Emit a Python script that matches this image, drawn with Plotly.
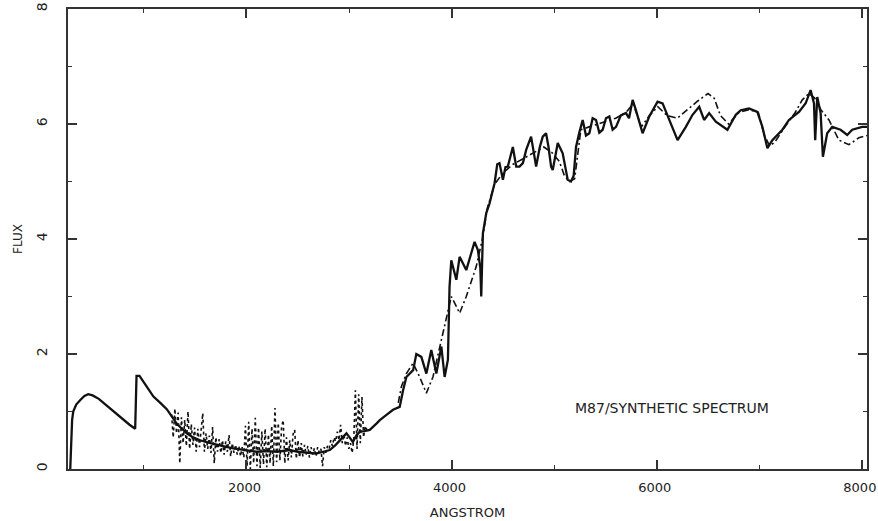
import numpy as np
import plotly.graph_objects as go

# Solid spectrum: model UV continuum joined to the observed optical spectrum
solid_wave = [282, 290, 300, 311, 340, 380, 420, 457, 500, 560, 620, 700, 780, 860, 915, 928,
              957, 1000, 1093, 1160, 1223, 1270, 1320, 1370, 1418, 1480, 1547, 1630, 1710, 1790,
              1872, 1950, 2018, 2100, 2200, 2300, 2423, 2500, 2600, 2680, 2748, 2813, 2870, 2910,
              2975, 3005, 3037, 3070, 3105, 3150, 3202, 3267, 3300, 3365, 3429, 3494, 3510, 3527,
              3559, 3625, 3656, 3705, 3754, 3780, 3802, 3851, 3900, 3932, 3964, 3980, 3997, 4046,
              4078, 4143, 4224, 4256, 4280, 4289, 4305, 4338, 4370, 4395, 4419, 4445, 4467, 4500,
              4525, 4548, 4597, 4630, 4662, 4695, 4727, 4775, 4800, 4824, 4860, 4889, 4921, 4945,
              4970, 4986, 5035, 5051, 5083, 5132, 5164, 5190, 5213, 5245, 5278, 5310, 5343, 5375,
              5408, 5440, 5473, 5505, 5538, 5570, 5603, 5650, 5700, 5730, 5765, 5797, 5862, 5927,
              6008, 6057, 6122, 6203, 6284, 6349, 6414, 6462, 6511, 6576, 6689, 6771, 6819, 6900,
              6981, 7030, 7079, 7127, 7225, 7289, 7387, 7452, 7500, 7533, 7545, 7565, 7598, 7620,
              7662, 7711, 7792, 7857, 7906, 8003, 8050]
solid_flux = [0.00, 0.55, 0.85, 1.00, 1.12, 1.20, 1.27, 1.30, 1.28, 1.22, 1.13, 1.00, 0.88, 0.77, 0.70, 1.62,
              1.62, 1.50, 1.26, 1.15, 1.04, 0.92, 0.79, 0.70, 0.62, 0.55, 0.50, 0.46, 0.42, 0.39,
              0.36, 0.34, 0.31, 0.30, 0.31, 0.30, 0.33, 0.30, 0.28, 0.27, 0.30, 0.33, 0.42, 0.50,
              0.62, 0.55, 0.47, 0.58, 0.65, 0.66, 0.68, 0.79, 0.85, 0.94, 1.03, 1.08, 1.25, 1.37,
              1.60, 1.72, 2.00, 1.95, 1.66, 1.90, 2.07, 1.66, 2.13, 1.60, 1.90, 3.17, 3.63, 3.29,
              3.69, 3.46, 3.95, 3.81, 3.50, 3.00, 4.10, 4.45, 4.62, 4.80, 4.97, 5.30, 5.32, 5.03,
              5.25, 5.26, 5.60, 5.26, 5.26, 5.32, 5.55, 5.78, 5.50, 5.26, 5.60, 5.78, 5.84, 5.60,
              5.26, 5.20, 5.67, 5.60, 5.49, 5.03, 5.00, 5.10, 5.60, 5.85, 6.07, 5.80, 5.84, 6.10,
              6.07, 5.85, 5.90, 6.10, 6.13, 5.90, 5.95, 6.15, 6.19, 6.10, 6.42, 6.24, 5.84, 6.13,
              6.39, 6.36, 6.07, 5.72, 5.95, 6.16, 6.30, 6.07, 6.19, 6.04, 5.90, 6.16, 6.24, 6.27,
              6.21, 5.95, 5.58, 5.72, 5.90, 6.07, 6.21, 6.36, 6.59, 6.36, 5.72, 6.47, 6.19, 5.43,
              5.84, 5.95, 5.90, 5.81, 5.90, 5.95, 5.95]

# Dash-dot synthetic spectrum in the optical
synth_wave = [3480, 3510, 3559, 3624, 3689, 3754, 3818, 3883, 3948, 3997, 4040, 4078, 4143, 4240,
              4300, 4350, 4420, 4500, 4600, 4700, 4800, 4900, 4980, 5050, 5100, 5150, 5200, 5260,
              5340, 5420, 5500, 5600, 5700, 5770, 5850, 5930, 6010, 6100, 6200, 6300, 6400, 6500,
              6560, 6620, 6700, 6800, 6900, 6990, 7050, 7100, 7150, 7250, 7350, 7419, 7484, 7540,
              7600, 7679, 7776, 7873, 7970, 8050]
synth_flux = [1.15, 1.43, 1.66, 1.84, 1.60, 1.32, 1.60, 2.13, 2.65, 3.00, 2.85, 2.71, 3.00, 3.52,
              4.00, 4.55, 4.95, 5.15, 5.30, 5.40, 5.50, 5.60, 5.50, 5.35, 5.10, 5.00, 5.05, 5.90,
              5.95, 6.00, 6.05, 6.10, 6.20, 6.35, 5.95, 6.15, 6.30, 6.15, 6.10, 6.25, 6.40, 6.53,
              6.45, 6.15, 6.00, 6.20, 6.25, 6.20, 5.80, 5.62, 5.68, 5.95, 6.20, 6.42, 6.53, 6.45,
              6.25, 6.07, 5.72, 5.64, 5.76, 5.80]

# Dotted ultraviolet observations, sampled every 16 A from 1270 A
uv_start = 1270
uv_step = 16
uv_flux = [0.95, 0.55, 1.05, 0.62, 0.98, 0.10, 0.90, 0.45, 0.85, 0.40,
           1.00, 0.35, 0.78, 0.42, 0.72, 0.30, 0.70, 0.38, 0.68, 0.97,
           0.30, 0.62, 0.35, 0.58, 0.28, 0.73, 0.10, 0.55, 0.30, 0.52,
           0.28, 0.50, 0.25, 0.48, 0.30, 0.59, 0.22, 0.45, 0.28, 0.42,
           0.25, 0.40, 0.22, 0.38, 0.20, 0.75, 0.05, 0.82, 0.00, 0.70,
           0.10, 0.89, 0.05, 0.72, 0.02, 0.65, 0.08, 0.70, 0.03, 0.60,
           0.10, 0.75, 0.05, 1.06, 0.12, 0.80, 0.15, 0.72, 0.85, 0.10,
           0.55, 0.15, 0.50, 0.20, 0.60, 0.68, 0.18, 0.50, 0.20, 0.45,
           0.22, 0.42, 0.25, 0.40, 0.20, 0.38, 0.25, 0.36, 0.22, 0.38,
           0.28, 0.35, 0.05, 0.38, 0.28, 0.40, 0.35, 0.50, 0.40, 0.55,
           0.48, 0.65, 0.50, 0.77, 0.45, 0.60, 0.40, 0.55, 0.35, 0.45,
           0.28, 0.50, 1.37, 0.35, 1.30, 0.45, 1.25, 0.55, 0.75, 0.68]
uv_wave = uv_start + uv_step * np.arange(len(uv_flux))

x_major = 2000
x_minor = 1000
y_major = 2
y_minor = 1

ink = "#111111"
frame = "#333333"
text_color = "#222222"
font = "DejaVu Sans"

fig = go.Figure()
fig.add_trace(go.Scatter(x=uv_wave, y=uv_flux, mode="lines",
                         line=dict(color=ink, width=1.6, dash="dot")))
fig.add_trace(go.Scatter(x=synth_wave, y=synth_flux, mode="lines",
                         line=dict(color=ink, width=1.6, dash="7px,3px,2px,3px")))
fig.add_trace(go.Scatter(x=solid_wave, y=solid_flux, mode="lines",
                         line=dict(color=ink, width=2.3)))

fig.add_annotation(x=6150, y=1.06, text="M87/SYNTHETIC SPECTRUM", showarrow=False,
                   font=dict(family=font, size=14, color=text_color))

axis_common = dict(showgrid=False, zeroline=False, showline=True, linecolor=frame,
                   linewidth=1.5, mirror="ticks", ticks="inside", ticklen=9, tickwidth=1.5,
                   tickcolor=frame, tickmode="linear", tick0=0, automargin=False,
                   ticklabeloverflow="allow")

fig.update_xaxes(range=[260, 8050], dtick=x_major,
                 minor=dict(ticks="inside", ticklen=4, tickwidth=1.2, tickcolor=frame,
                            dtick=x_minor, tick0=0, showgrid=False),
                 ticklabelstandoff=6, ticklabelshift=-2,
                 tickfont=dict(family=font, size=13, color=text_color),
                 title=dict(text="ANGSTROM", font=dict(family=font, size=13, color=text_color),
                            standoff=14),
                 **axis_common)
fig.update_yaxes(range=[0, 8], dtick=y_major, tickangle=-90, ticklabelstandoff=14,
                 minor=dict(ticks="inside", ticklen=4, tickwidth=1.2, tickcolor=frame,
                            dtick=y_minor, tick0=0, showgrid=False),
                 tickfont=dict(family=font, size=14, color=text_color),
                 title=dict(text="FLUX", font=dict(family=font, size=12, color=text_color),
                            standoff=8),
                 **axis_common)

fig.update_layout(width=878, height=521, showlegend=False,
                  margin=dict(l=68, r=11, t=9, b=52),
                  paper_bgcolor="white", plot_bgcolor="white")

fig.write_html("out.html")
